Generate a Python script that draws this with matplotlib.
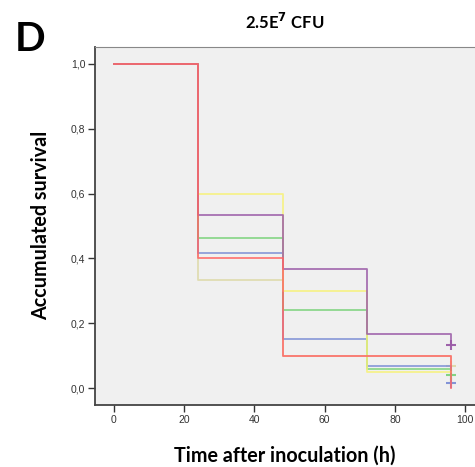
import numpy as np
import matplotlib.pyplot as plt

# Kaplan-Meier style survival curves (time in hours)
times = [0, 24, 48, 72, 96]
red_surv = [1.0, 0.40, 0.10, 0.10, 0.0]
purple_surv = [1.0, 0.533, 0.367, 0.167, 0.133]
yellow_surv = [1.0, 0.60, 0.30, 0.05, 0.05]
green_surv = [1.0, 0.462, 0.24, 0.06, 0.04]
blue_surv = [1.0, 0.417, 0.15, 0.068, 0.017]
beige_surv = [1.0, 0.333, 0.10, 0.10, 0.067]

# censored points at end of follow-up
cens_time = 96
cens_vals = {'purple': 0.133, 'beige': 0.067, 'green': 0.04, 'blue': 0.017}

colors = {
    'beige': '#ddd9a8',
    'blue': '#7d8fd6',
    'green': '#7cd37c',
    'yellow': '#f7f27a',
    'purple': '#9a5aa6',
    'red': '#ff6464',
}
curves = {
    'beige': beige_surv,
    'blue': blue_surv,
    'green': green_surv,
    'yellow': yellow_surv,
    'purple': purple_surv,
    'red': red_surv,
}

fig = plt.figure(figsize=(4.75, 4.67), dpi=100)
ax = fig.add_axes([0.2, 0.1328, 0.8, 0.7672])
ax.set_facecolor('#f0f0f0')

for name, surv in curves.items():
    ax.step(times, surv, where='post', color=colors[name], lw=1.3, alpha=0.85)
    if name in cens_vals:
        ax.plot(cens_time, cens_vals[name], marker='+', color=colors[name],
                ms=7, mew=1.5, alpha=0.95)

ax.set_xlim(-5.4, 102.8)
ax.set_ylim(-0.052, 1.053)
ax.set_xticks([0, 20, 40, 60, 80, 100])
ax.set_yticks([0.0, 0.2, 0.4, 0.6, 0.8, 1.0])
ax.set_yticklabels(['0,0', '0,2', '0,4', '0,6', '0,8', '1,0'])
ax.tick_params(direction='out', length=5, width=1, colors='#333333',
               labelsize=7.5, labelcolor='#333333', pad=2)
for lab in ax.get_xticklabels() + ax.get_yticklabels():
    lab.set_fontfamily('Liberation Sans')

ax.spines['right'].set_visible(False)
ax.spines['top'].set_color('#888888')
ax.spines['left'].set_color('#444444')
ax.spines['bottom'].set_color('#444444')
ax.spines['left'].set_linewidth(1.3)
ax.spines['bottom'].set_linewidth(1.3)

ax.set_title(r'2.5E$^{\mathbf{7}}$ CFU', fontfamily='Lato', fontweight='bold',
             fontsize=12, pad=13)
ax.set_xlabel('Time after inoculation (h)', fontfamily='Lato',
              fontweight='bold', fontsize=14.2, labelpad=15)
ax.set_ylabel('Accumulated survival', fontfamily='Lato',
              fontweight='bold', fontsize=14.2, labelpad=14)

fig.text(0.03, 0.89, 'D', fontfamily='Lato', fontweight='bold', fontsize=29)

fig.savefig('out.png', dpi=100)
